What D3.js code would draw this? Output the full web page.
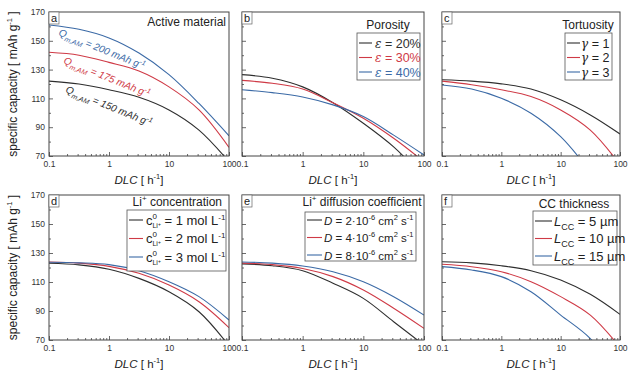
<!DOCTYPE html>
<html><head><meta charset="utf-8">
<script src="https://cdn.jsdelivr.net/npm/d3@7"></script>
<style>
html,body{margin:0;padding:0;background:#fff;}
text{font-family:"Liberation Sans",Arial,sans-serif;}
</style></head>
<body><svg id="c" width="640" height="376"></svg>
<script>
// ---- data ----
const xVals = [0.1, 0.316, 1, 3.16, 10, 31.6, 100];
const yTicks = [70, 90, 110, 130, 150, 170];
const xTicks = [0.1, 1, 10, 100];

// a: active material
const aQ200 = [161, 158, 152, 141.5, 126.5, 106.5, 84];
const aQ175 = [142, 140, 135, 129, 118, 102, 76];
const aQ150 = [122, 120, 116, 110.8, 102, 88, 66];
// b: porosity
const bE20 = [126.5, 124, 118, 107, 92.7, 76.3, 55];
const bE30 = [122.5, 120.5, 116.5, 107, 96.2, 82.3, 66];
const bE40 = [116, 114, 111, 105.5, 97.4, 84.5, 70.7];
// c: tortuosity
const cG1 = [123, 122, 120.1, 116.5, 109, 98.5, 85.3];
const cG2 = [122, 119.5, 116, 111.3, 102, 88, 64];
const cG3 = [119.3, 116.5, 110.1, 99.7, 83.4, 59, 30];
// d: Li+ concentration
const dC1 = [122.9, 121.8, 118.8, 112.5, 103.3, 89.5, 66];
const dC2 = [123.8, 123, 120.8, 116, 107.9, 96.4, 78.5];
const dC3 = [123.6, 123.2, 122, 117.8, 110.2, 99.9, 83.8];
// e: diffusion coefficient
const eD2 = [122.5, 121.2, 117.8, 109.1, 98.7, 82.6, 66.5];
const eD4 = [123, 122, 119.3, 113.7, 104.5, 91.9, 78];
const eD8 = [123.8, 123, 121, 117.1, 110.2, 99.9, 87.2];
// f: CC thickness
const fL5 = [124, 123.2, 121.2, 117.8, 111.4, 101.5, 87.7];
const fL10 = [122.2, 120.5, 117.1, 110.2, 99.9, 87.2, 65];
const fL15 = [120.6, 118.3, 113.7, 103.3, 87.2, 71, 45];

const COL = {k: "#2e2e2e", r: "#cf3a46", b: "#3b6aa6"};

const svg = d3.select("#c");
const defs = svg.append("defs");

const panels = [
  {id: "a", x0: 49, x1: 229, y0: 12, y1: 156, ylab: true,
   series: [[aQ150, "k"], [aQ175, "r"], [aQ200, "b"]]},
  {id: "b", x0: 242, x1: 424, y0: 12, y1: 156, ylab: false,
   series: [[bE20, "k"], [bE30, "r"], [bE40, "b"]]},
  {id: "c", x0: 442, x1: 620, y0: 12, y1: 156, ylab: false,
   series: [[cG1, "k"], [cG2, "r"], [cG3, "b"]]},
  {id: "d", x0: 49, x1: 229, y0: 195, y1: 340, ylab: true,
   series: [[dC1, "k"], [dC2, "r"], [dC3, "b"]]},
  {id: "e", x0: 242, x1: 424, y0: 195, y1: 340, ylab: false,
   series: [[eD2, "k"], [eD4, "r"], [eD8, "b"]]},
  {id: "f", x0: 442, x1: 620, y0: 195, y1: 340, ylab: false,
   series: [[fL5, "k"], [fL10, "r"], [fL15, "b"]]}
];

const minorX = [];
[0.1, 1, 10].forEach(d => { for (let i = 2; i <= 9; i++) minorX.push(+(d * i).toPrecision(3)); });
const minorY = [80, 100, 120, 140, 160];

panels.forEach(p => {
  const x = d3.scaleLog().domain([0.1, 100]).range([p.x0, p.x1]);
  const y = d3.scaleLinear().domain([70, 170]).range([p.y1, p.y0]);
  const g = svg.append("g");
  defs.append("clipPath").attr("id", "clip" + p.id)
    .append("rect").attr("x", p.x0).attr("y", p.y0).attr("width", p.x1 - p.x0).attr("height", p.y1 - p.y0);

  const line = d3.line().x((d, i) => x(xVals[i])).y(d => y(d)).curve(d3.curveCatmullRom.alpha(0.5));
  g.append("g").attr("clip-path", `url(#clip${p.id})`)
    .selectAll("path").data(p.series).join("path")
    .attr("d", d => line(d[0])).attr("fill", "none")
    .attr("stroke", d => COL[d[1]]).attr("stroke-width", 1.1);

  // axes
  g.append("g").attr("transform", `translate(0,${p.y1})`)
    .call(d3.axisBottom(x).tickValues(xTicks).tickFormat(d => d3.format("~g")(d))
      .tickSizeInner(-4).tickSizeOuter(0).tickPadding(5));
  g.append("g").attr("transform", `translate(0,${p.y1})`)
    .call(d3.axisBottom(x).tickValues(minorX).tickFormat("").tickSizeInner(-2).tickSizeOuter(0));
  g.append("g").attr("transform", `translate(${p.x0},0)`)
    .call(d3.axisLeft(y).tickValues(yTicks).tickFormat(p.ylab ? d3.format("d") : "")
      .tickSizeInner(-4).tickSizeOuter(0).tickPadding(4));
  g.append("g").attr("transform", `translate(${p.x0},0)`)
    .call(d3.axisLeft(y).tickValues(minorY).tickFormat("").tickSizeInner(-2).tickSizeOuter(0));
  g.selectAll(".domain").remove();
  g.selectAll(".tick line").attr("stroke", "#444").attr("stroke-width", 0.8);
  g.selectAll(".tick text").attr("font-size", 8.5).attr("fill", "#333")
    .attr("font-family", "Liberation Sans, Arial, sans-serif");
  g.append("rect").attr("x", p.x0).attr("y", p.y0).attr("width", p.x1 - p.x0).attr("height", p.y1 - p.y0)
    .attr("fill", "none").attr("stroke", "#444").attr("stroke-width", 1);

  // panel letter box
  g.append("rect").attr("x", p.x0).attr("y", p.y0).attr("width", 10).attr("height", 12)
    .attr("fill", "#fff").attr("stroke", "#666").attr("stroke-width", 0.7);
  g.append("text").attr("x", p.x0 + 2).attr("y", p.y0 + 9.5).attr("font-size", 11).attr("fill", "#222").text(p.id);

  // x label
  const xl = g.append("text").attr("x", (p.x0 + p.x1) / 2).attr("y", p.y1 + 28)
    .attr("text-anchor", "middle").attr("font-size", 11.5).attr("fill", "#222");
  xl.append("tspan").attr("font-style", "italic").text("DLC");
  xl.append("tspan").text(" [ h");
  xl.append("tspan").attr("font-size", 7.5).attr("dy", -5).text("-1");
  xl.append("tspan").attr("dy", 5).text("]");

  if (p.ylab) {
    const yl = g.append("text")
      .attr("transform", `translate(17,${(p.y0 + p.y1) / 2}) rotate(-90)`)
      .attr("text-anchor", "middle").attr("font-size", 12).attr("fill", "#222");
    yl.append("tspan").text("specific capacity [ mAh g");
    yl.append("tspan").attr("font-size", 7.5).attr("dy", -5).text("-1");
    yl.append("tspan").attr("dy", 5).text(" ]");
  }
});

// ---- panel a annotations ----
function titleText(x, yy, anchor, txt) {
  return svg.append("text").attr("x", x).attr("y", yy).attr("text-anchor", anchor)
    .attr("font-size", 12).attr("fill", "#222").text(txt);
}
titleText(226, 26, "end", "Active material");
const aLabels = [
  {v: "200", c: "b", tx: 58, ty: 35, r: 22},
  {v: "175", c: "r", tx: 63, ty: 63, r: 22},
  {v: "150", c: "k", tx: 65, ty: 92, r: 22}
];
aLabels.forEach(l => {
  const t = svg.append("text").attr("transform", `translate(${l.tx},${l.ty}) rotate(${l.r})`)
    .attr("font-size", 10).attr("font-style", "italic").attr("fill", COL[l.c]);
  t.append("tspan").text("Q");
  t.append("tspan").attr("font-size", 7).attr("dy", 3).text("m,AM");
  t.append("tspan").attr("dy", -3).text(` = ${l.v} mAh g`);
  t.append("tspan").attr("font-size", 7).attr("dy", -4).text("-1");
});

// ---- legends ----
function legendBox(bx, by, bw, bh) {
  svg.append("rect").attr("x", bx).attr("y", by).attr("width", bw).attr("height", bh)
    .attr("fill", "#fff").attr("stroke", "#555").attr("stroke-width", 0.8);
}
function legLine(x1, x2, yy, c) {
  svg.append("line").attr("x1", x1).attr("x2", x2).attr("y1", yy).attr("y2", yy)
    .attr("stroke", COL[c]).attr("stroke-width", 1.1);
}

// b: porosity
const porLabels = ["20%", "30%", "40%"];
const porCols = ["k", "r", "b"];
titleText(388, 29, "middle", "Porosity");
legendBox(357, 33, 63, 47);
porLabels.forEach((v, i) => {
  const yy = 43 + i * 14.5;
  legLine(359, 372, yy, porCols[i]);
  const t = svg.append("text").attr("x", 375).attr("y", yy + 4.5).attr("font-size", 12.5).attr("fill", COL[porCols[i]]);
  t.append("tspan").attr("font-style", "italic").attr("font-family", "DejaVu Serif, serif").attr("font-size", 12).text("ε");
  t.append("tspan").text(" = " + v);
});

// c: tortuosity
const torLabels = ["1", "2", "3"];
titleText(588, 29, "middle", "Tortuosity");
legendBox(565, 33, 47, 47);
torLabels.forEach((v, i) => {
  const yy = 43 + i * 14.5;
  legLine(567, 580, yy, porCols[i]);
  const t = svg.append("text").attr("x", 581).attr("y", yy + 4.5).attr("font-size", 12.5).attr("fill", "#222");
  t.append("tspan").attr("font-style", "italic").attr("font-family", "DejaVu Serif, serif").attr("font-size", 12).text("γ");
  t.append("tspan").text(" = " + v);
});

// d: Li+ concentration
const concLabels = ["1", "2", "3"];
{
  const t = titleText(222, 206, "end", "");
  t.append("tspan").text("Li");
  t.append("tspan").attr("font-size", 8).attr("dy", -5).text("+");
  t.append("tspan").attr("dy", 5).text(" concentration");
}
legendBox(127, 210, 99, 61);
concLabels.forEach((v, i) => {
  const yy = 220 + i * 18.5;
  legLine(129, 143, yy, porCols[i]);
  const t = svg.append("text").attr("x", 146).attr("y", yy + 4.5).attr("font-size", 13).attr("fill", "#222");
  t.append("tspan").text("c");
  t.append("tspan").attr("font-size", 8).attr("dy", -6).text("0");
  t.append("tspan").attr("font-size", 7).attr("dx", -4.5).attr("dy", 9).text("Li");
  t.append("tspan").attr("font-size", 5).attr("dy", -2).text("+");
  t.append("tspan").attr("dy", -1).text(" = " + v + " mol L");
  t.append("tspan").attr("font-size", 8).attr("dy", -5).text("-1");
});

// e: diffusion coefficient
const diffLabels = ["2", "4", "8"];
{
  const t = titleText(362, 206, "middle", "");
  t.append("tspan").text("Li");
  t.append("tspan").attr("font-size", 8).attr("dy", -5).text("+");
  t.append("tspan").attr("dy", 5).text(" diffusion coefficient");
}
legendBox(305, 212, 111, 49);
diffLabels.forEach((v, i) => {
  const yy = 220 + i * 17.5;
  legLine(307, 322, yy, porCols[i]);
  const t = svg.append("text").attr("x", 324).attr("y", yy + 4.5).attr("font-size", 11.5).attr("fill", "#222");
  t.append("tspan").attr("font-style", "italic").text("D");
  t.append("tspan").text(" = " + v + "·10");
  t.append("tspan").attr("font-size", 7.5).attr("dy", -5).text("-6");
  t.append("tspan").attr("dy", 5).text(" cm");
  t.append("tspan").attr("font-size", 7.5).attr("dy", -5).text("2");
  t.append("tspan").attr("dy", 5).text(" s");
  t.append("tspan").attr("font-size", 7.5).attr("dy", -5).text("-1");
});

// f: CC thickness
const ccLabels = ["5", "10", "15"];
titleText(574, 208, "middle", "CC thickness");
legendBox(533, 211, 84, 54);
ccLabels.forEach((v, i) => {
  const yy = 221 + i * 17.5;
  legLine(535, 552, yy, porCols[i]);
  const t = svg.append("text").attr("x", 554).attr("y", yy + 4.5).attr("font-size", 13).attr("fill", "#222");
  t.append("tspan").attr("font-style", "italic").text("L");
  t.append("tspan").attr("font-size", 9).attr("dy", 4).text("CC");
  t.append("tspan").attr("dy", -4).text(" = " + v + " µm");
});
</script></body></html>
